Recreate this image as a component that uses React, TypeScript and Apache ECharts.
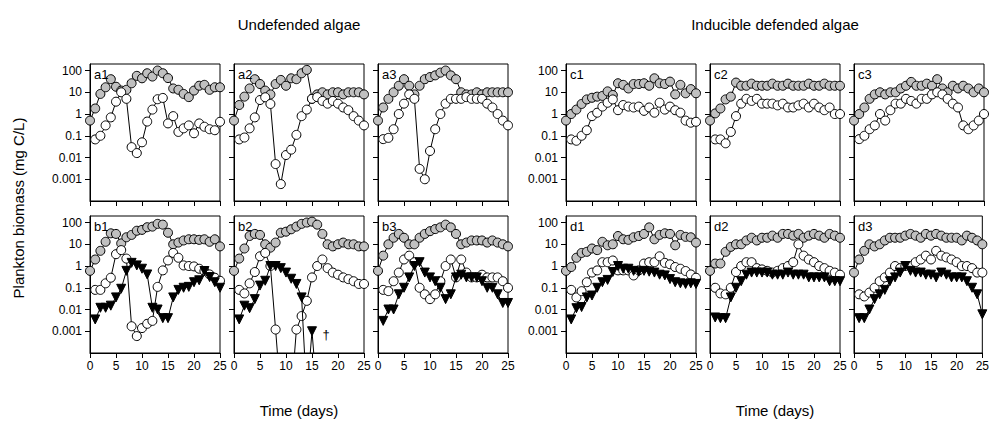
import React, { useEffect, useRef } from "react";
import * as echarts from "echarts";

// ---- data (biomass, mg C/L) ----
const days = [0, 1, 2, 3, 4, 5, 6, 7, 8, 9, 10, 11, 12, 13, 14, 15, 16, 17, 18, 19, 20, 21, 22, 23, 24, 25];
const daysFrom1 = [1, 2, 3, 4, 5, 6, 7, 8, 9, 10, 11, 12, 13, 14, 15, 16, 17, 18, 19, 20, 21, 22, 23, 24, 25];
const yTickValues = [0.001, 0.01, 0.1, 1, 10, 100];
const xTickLabels = ["0", "5", "10", "15", "20", "25"];

// Undefended algae, two-level (a) and three-level (b)
const a1Algae = [0.5, 1.8, 8.4, 17, 40, 18, 12, 13, 26, 57, 44, 75, 53, 100, 75, 45, 15, 13, 8.4, 6, 12, 20, 22, 13, 17, 17];
const a1Herb = [0.068, 0.1, 0.3, 0.7, 3.7, 10, 5, 0.03, 0.016, 0.05, 0.45, 1.6, 4.8, 5.5, 0.37, 0.8, 0.15, 0.22, 0.3, 0.13, 0.37, 0.26, 0.2, 0.18, 0.44];
const a2Algae = [0.5, 2.6, 6.3, 15, 40, 24, 12, 8, 24, 37, 20, 44, 40, 75, 107, 5, 8, 10, 8, 10, 10, 8, 10, 10, 10, 8];
const a2Herb = [0.068, 0.083, 0.22, 0.7, 4.4, 5.9, 2.9, 0.005, 0.0006, 0.013, 0.023, 0.11, 0.8, 1.6, 5, 6, 4, 3, 4, 3, 2, 1.5, 0.8, 0.5, 0.3];
const a3Algae = [0.5, 2, 5, 10, 20, 40, 20, 8, 20, 40, 50, 60, 80, 100, 60, 40, 10, 8, 8, 10, 8, 10, 10, 10, 10, 10];
const a3Herb = [0.07, 0.08, 0.2, 1, 3, 8, 5, 0.003, 0.001, 0.02, 0.2, 1, 3, 5, 5, 5, 6, 5, 5, 5, 3, 2, 1, 0.5, 0.3];

const b1Algae = [0.6, 2, 5, 13, 32, 30, 11, 21, 27, 42, 46, 61, 65, 87, 80, 34, 10, 12, 15, 17, 17, 16, 17, 13, 17, 8];
const b1Herb = [0.08, 0.08, 0.16, 0.29, 3.5, 5.4, 2.2, 0.0017, 0.0006, 0.0014, 0.0022, 0.003, 0.11, 0.63, 1.8, 4, 2.4, 1.07, 1, 0.96, 0.75, 0.59, 0.41, 0.29, 0.21];
const b1Pred = [0.0035, 0.012, 0.012, 0.015, 0.036, 0.09, 0.6, 1.4, 1.07, 0.75, 0.41, 0.012, 0.01, 0.004, 0.004, 0.036, 0.08, 0.1, 0.11, 0.18, 0.22, 0.59, 0.31, 0.18, 0.1];
const b2Algae = [0.6, 2.2, 6.4, 24, 30, 27, 10, 7, 12, 34, 38, 49, 65, 87, 100, 110, 80, 30, 10, 8, 10, 12, 10, 10, 8, 8];
const b2Herb = [0.08, 0.055, 0.16, 0.53, 2.8, 4, 1, 0.0012, 0.000001, 0.000001, 0.000001, 0.0012, 0.005, 0.025, 0.3, 1, 2, 0.8, 0.5, 0.4, 0.3, 0.25, 0.2, 0.15, 0.15];
const b2Pred = [0.0035, 0.015, 0.0115, 0.03, 0.126, 0.21, 1, 1, 0.8, 0.5, 0.26, 0.15, 0.036, 0.000001, 0.001, 0.000001];
const b3Algae = [0.6, 3, 10, 20, 30, 20, 10, 10, 20, 30, 40, 50, 60, 80, 60, 30, 10, 12, 15, 15, 15, 12, 15, 12, 10, 8];
const b3Herb = [0.08, 0.07, 0.2, 0.5, 2, 3, 1.5, 0.1, 0.05, 0.03, 0.05, 0.2, 1, 2, 0.3, 2, 0.5, 0.3, 0.3, 0.4, 0.3, 0.3, 0.3, 0.2, 0.1];
const b3Pred = [0.003, 0.01, 0.01, 0.05, 0.1, 0.3, 1, 1.5, 0.5, 0.3, 0.2, 0.1, 0.03, 0.05, 0.3, 0.4, 0.3, 0.3, 0.3, 0.2, 0.1, 0.1, 0.05, 0.02, 0.02];

// Inducible defended algae, two-level (c) and three-level (d)
const c1Algae = [0.5, 1, 1.6, 2.9, 4.7, 5.6, 6.3, 6.8, 11, 7.5, 26, 22, 15, 24, 24, 26, 20, 44, 26, 24, 31, 8, 22, 9, 14, 9];
const c1Herb = [0.068, 0.059, 0.1, 0.18, 0.8, 1.15, 2.2, 3.3, 4.7, 1.5, 2.6, 2.2, 2, 2.2, 1.4, 2, 1.15, 3.3, 1.6, 2.2, 1.5, 1.15, 0.5, 0.4, 0.44];
const c2Algae = [0.5, 1.07, 1.8, 4.7, 6.3, 28, 20, 20, 25, 20, 20, 20, 25, 20, 20, 25, 20, 20, 20, 25, 20, 20, 25, 20, 20, 20];
const c2Herb = [0.068, 0.068, 0.045, 0.15, 0.8, 3, 5, 4, 5, 3, 3, 3, 2.5, 3, 2, 2, 2.5, 3, 2, 3, 2, 1.5, 2, 1, 1];
const c3Algae = [0.5, 1, 2, 5, 8, 10, 8, 10, 10, 15, 20, 30, 20, 20, 25, 20, 40, 15, 10, 20, 15, 20, 15, 10, 15, 10];
const c3Herb = [0.07, 0.1, 0.2, 0.3, 1, 0.5, 1.5, 3, 3, 5, 4, 3, 5, 5, 8, 10, 8, 5, 3, 2, 0.3, 0.2, 0.3, 0.5, 1];

const d1Algae = [0.6, 0.9, 2.4, 4, 4.5, 6.4, 5.4, 13, 9, 10, 24, 17, 16, 21, 24, 30, 60, 17, 27, 32, 30, 9, 27, 22, 21, 12];
const d1Herb = [0.08, 0.036, 0.07, 0.18, 0.5, 0.63, 1.5, 1.5, 1.8, 0.63, 0.63, 0.63, 0.37, 0.63, 1.3, 1.5, 1.5, 2.8, 1.4, 1.2, 0.9, 0.75, 0.59, 0.41, 0.29];
const d1Pred = [0.0035, 0.0115, 0.013, 0.036, 0.044, 0.1, 0.18, 0.23, 0.53, 1, 0.75, 0.75, 0.6, 0.55, 0.6, 0.55, 0.5, 0.4, 0.37, 0.25, 0.18, 0.16, 0.15, 0.16, 0.15];
const d2Algae = [0.6, 1.3, 1.3, 4.5, 7.6, 10, 10, 15, 20, 15, 20, 20, 25, 20, 30, 30, 25, 30, 20, 25, 30, 25, 20, 30, 25, 20];
const d2Herb = [0.1, 0.055, 0.05, 0.1, 0.53, 1, 1.5, 1.5, 0.8, 0.7, 0.6, 0.5, 0.6, 0.8, 1, 1.5, 10, 3, 2, 1.5, 1, 0.8, 0.6, 0.5, 0.4];
const d2Pred = [0.0043, 0.004, 0.004, 0.036, 0.1, 0.2, 0.4, 0.5, 0.5, 0.5, 0.5, 0.4, 0.4, 0.4, 0.5, 0.4, 0.4, 0.4, 0.3, 0.3, 0.3, 0.3, 0.2, 0.2, 0.2];
const d3Algae = [0.5, 2, 5, 10, 8, 10, 15, 20, 20, 20, 25, 30, 25, 20, 30, 25, 30, 25, 20, 20, 20, 15, 25, 20, 15, 10];
const d3Herb = [0.05, 0.04, 0.06, 0.1, 0.2, 0.3, 0.5, 1, 0.8, 1, 1, 1.5, 2, 3, 2, 5, 3, 2.5, 2, 1.5, 1, 1, 0.8, 0.5, 0.5];
const d3Pred = [0.004, 0.004, 0.01, 0.03, 0.05, 0.08, 0.2, 0.3, 0.5, 1, 0.6, 0.5, 0.5, 0.4, 0.4, 0.3, 0.5, 0.4, 0.3, 0.3, 0.3, 0.2, 0.1, 0.05, 0.006];

type Panel = { label: string; row: number; col: number; algae: number[]; herb: number[]; pred?: number[] };
const panels: Panel[] = [
  { label: "a1", row: 0, col: 0, algae: a1Algae, herb: a1Herb },
  { label: "a2", row: 0, col: 1, algae: a2Algae, herb: a2Herb },
  { label: "a3", row: 0, col: 2, algae: a3Algae, herb: a3Herb },
  { label: "c1", row: 0, col: 3, algae: c1Algae, herb: c1Herb },
  { label: "c2", row: 0, col: 4, algae: c2Algae, herb: c2Herb },
  { label: "c3", row: 0, col: 5, algae: c3Algae, herb: c3Herb },
  { label: "b1", row: 1, col: 0, algae: b1Algae, herb: b1Herb, pred: b1Pred },
  { label: "b2", row: 1, col: 1, algae: b2Algae, herb: b2Herb, pred: b2Pred },
  { label: "b3", row: 1, col: 2, algae: b3Algae, herb: b3Herb, pred: b3Pred },
  { label: "d1", row: 1, col: 3, algae: d1Algae, herb: d1Herb, pred: d1Pred },
  { label: "d2", row: 1, col: 4, algae: d2Algae, herb: d2Herb, pred: d2Pred },
  { label: "d3", row: 1, col: 5, algae: d3Algae, herb: d3Herb, pred: d3Pred },
];

// ---- layout ----
const colLeft = [90, 234, 378, 566, 710, 854];
const rowTop = [64, 216];
const PW = 130;
const PH = 137;
const FONT = "'Liberation Sans', Arial, sans-serif";

function pairs(xs: number[], ys: number[]) {
  const out: [number, number][] = [];
  ys.forEach((v, i) => out.push([xs[i], v]));
  return out;
}

function fmtTick(v: number) {
  if (v >= 1) return String(Math.round(v));
  return String(Number(v.toPrecision(1)));
}

function buildOption() {
  const grid: any[] = [];
  const xAxis: any[] = [];
  const yAxis: any[] = [];
  const series: any[] = [];
  const graphic: any[] = [];

  panels.forEach((p, i) => {
    const left = colLeft[p.col];
    const top = rowTop[p.row];
    grid.push({ left, top, width: PW, height: PH, show: true, borderColor: "#000", borderWidth: 1, backgroundColor: "transparent" });
    xAxis.push({
      type: "value", gridIndex: i, min: 0, max: 25, interval: 5,
      axisLine: { show: true, onZero: false, lineStyle: { color: "#000", width: 1 } },
      axisTick: { show: true, length: 5, lineStyle: { color: "#000" } },
      axisLabel: {
        show: p.row === 1, color: "#000", fontSize: 12, fontFamily: FONT, margin: 7,
        formatter: (v: number) => xTickLabels[Math.round(v / 5)] ?? "",
      },
      splitLine: { show: false },
    });
    yAxis.push({
      type: "log", logBase: 10, gridIndex: i, min: 0.0001, max: 200,
      axisLine: { show: true, onZero: false, lineStyle: { color: "#000", width: 1 } },
      axisTick: { show: true, length: 5, customValues: yTickValues, lineStyle: { color: "#000" } },
      axisLabel: {
        show: p.col === 0 || p.col === 3, color: "#000", fontSize: 12, fontFamily: FONT, margin: 8,
        customValues: yTickValues, formatter: fmtTick,
      },
      splitLine: { show: false },
      minorTick: { show: false },
    });
    const common = {
      type: "line", xAxisIndex: i, yAxisIndex: i, clip: true, showAllSymbol: true,
      lineStyle: { color: "#000", width: 1 }, emphasis: { disabled: true }, silent: true,
    };
    series.push({
      ...common, name: p.label + " algae", data: pairs(days, p.algae), symbol: "circle", symbolSize: 9, z: 2,
      itemStyle: { color: "#c0c0c0", borderColor: "#000", borderWidth: 1 },
    });
    series.push({
      ...common, name: p.label + " herbivore", data: pairs(daysFrom1, p.herb), symbol: "circle", symbolSize: 9, z: 3,
      itemStyle: { color: "#fff", borderColor: "#000", borderWidth: 1 },
    });
    if (p.pred) {
      series.push({
        ...common, name: p.label + " predator", data: pairs(daysFrom1, p.pred), symbol: "triangle", symbolRotate: 180,
        symbolSize: 9, z: 4, itemStyle: { color: "#000", borderColor: "#000", borderWidth: 1 },
      });
    }
    graphic.push({
      type: "text", left: left + 4, top: top + 4, z: 100,
      style: { text: p.label, fontSize: 13, fontFamily: FONT, fill: "#000" },
    });
  });

  graphic.push(
    { type: "text", x: 299, y: 24, style: { text: "Undefended algae", fontSize: 15, fontFamily: FONT, fill: "#000", align: "center", verticalAlign: "middle" } },
    { type: "text", x: 775, y: 24, style: { text: "Inducible defended algae", fontSize: 15, fontFamily: FONT, fill: "#000", align: "center", verticalAlign: "middle" } },
    { type: "text", x: 299, y: 410, style: { text: "Time (days)", fontSize: 15, fontFamily: FONT, fill: "#000", align: "center", verticalAlign: "middle" } },
    { type: "text", x: 775, y: 410, style: { text: "Time (days)", fontSize: 15, fontFamily: FONT, fill: "#000", align: "center", verticalAlign: "middle" } },
    { type: "text", x: 18, y: 208, rotation: Math.PI / 2, style: { text: "Plankton biomass (mg C/L)", fontSize: 15, fontFamily: FONT, fill: "#000", align: "center", verticalAlign: "middle" } },
    { type: "text", x: 326, y: 334, style: { text: "†", fontSize: 13, fontFamily: FONT, fill: "#000", align: "center", verticalAlign: "middle" } },
  );

  return { animation: false, backgroundColor: "#fff", grid, xAxis, yAxis, series, graphic };
}

export default function App() {
  const ref = useRef<HTMLDivElement>(null);
  useEffect(() => {
    if (!ref.current) return;
    const chart = echarts.init(ref.current, undefined, { renderer: "svg" });
    chart.setOption(buildOption() as any);
    return () => chart.dispose();
  }, []);
  return <div ref={ref} style={{ position: "fixed", left: 0, top: 0, width: 992, height: 422, background: "#fff" }} />;
}
